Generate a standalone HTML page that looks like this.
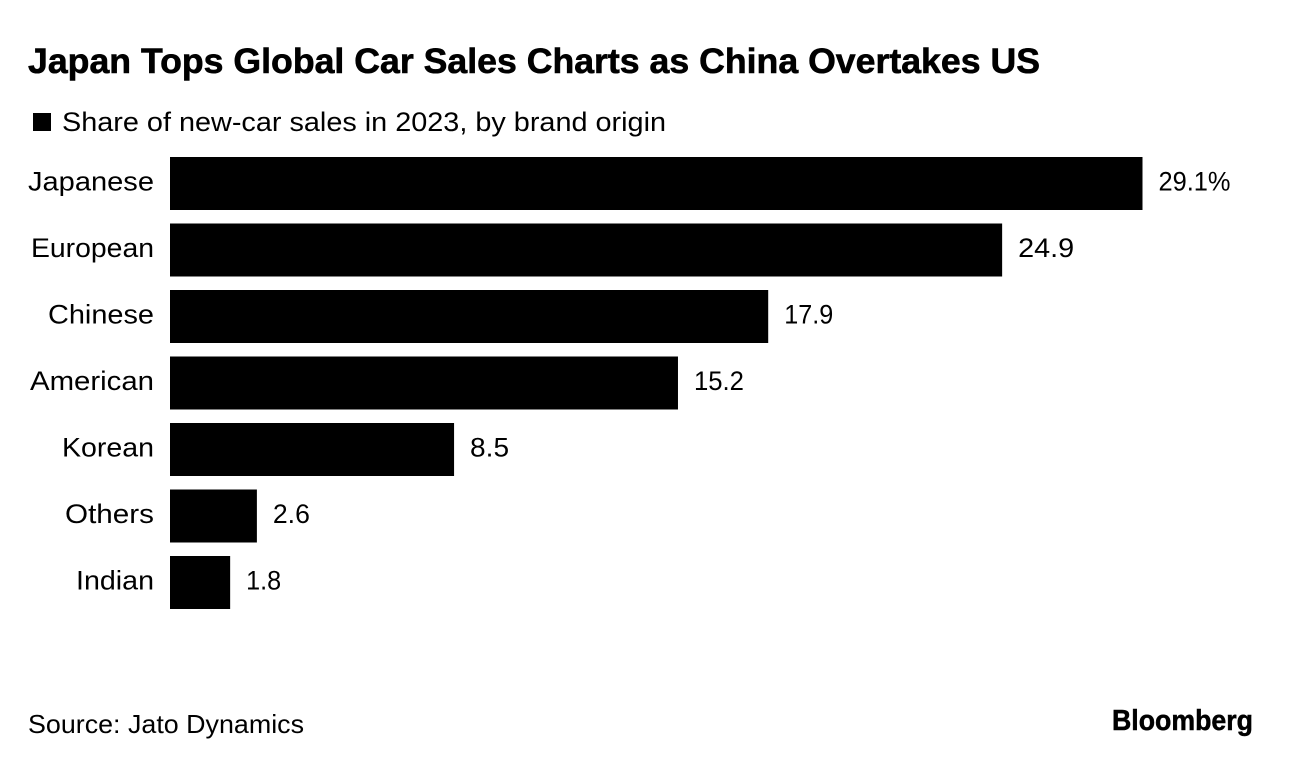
<!DOCTYPE html>
<html lang="en">
<head>
<meta charset="utf-8">
<title>Japan Tops Global Car Sales Charts as China Overtakes US</title>
<style>
html,body{margin:0;padding:0;background:#fff;}
body{width:1292px;height:766px;overflow:hidden;position:relative;font-family:"Liberation Sans",Arial,sans-serif;color:#000;}
svg{position:absolute;left:0;top:0;}
text{font-family:"Liberation Sans",Arial,sans-serif;fill:#000;}
</style>
</head>
<body>
<svg id="chart" width="1292" height="766" viewBox="0 0 1292 766">
  <text x="28" y="73" font-size="35" font-weight="700" stroke="#000" stroke-width="0.6" textLength="1012" lengthAdjust="spacingAndGlyphs">Japan Tops Global Car Sales Charts as China Overtakes US</text>
  <rect x="33" y="113" width="18" height="18" fill="#000"></rect>
  <text x="62" y="131" font-size="27" textLength="604" lengthAdjust="spacingAndGlyphs">Share of new-car sales in 2023, by brand origin</text>
  <g id="bars"></g>
  <text x="28" y="733" font-size="26" textLength="276" lengthAdjust="spacingAndGlyphs">Source: Jato Dynamics</text>
  <text x="1112" y="730" font-size="29" font-weight="700" stroke="#000" stroke-width="0.5" textLength="141" lengthAdjust="spacingAndGlyphs">Bloomberg</text>
</svg>
<script>
const categories = ["Japanese", "European", "Chinese", "American", "Korean", "Others", "Indian"];
const values = [29.1, 24.9, 17.9, 15.2, 8.5, 2.6, 1.8];
const valueLabels = ["29.1%", "24.9", "17.9", "15.2", "8.5", "2.6", "1.8"];

const NS = "http://www.w3.org/2000/svg";
const plotLeft = 170;
const pxPerUnit = (1142.5 - 170) / 29.1;
const bandTop = 157;
const bandStep = 66.5;
const barHeight = 53;
const categoryFit = { Japanese: 126, European: 123, Chinese: 106, American: 124, Korean: 92, Others: 89, Indian: 78 };
const valueFit = { "29.1%": 72, "24.9": 56, "17.9": 49, "15.2": 50, "8.5": 39, "2.6": 37, "1.8": 35 };
function xScale(v) { return plotLeft + v * pxPerUnit; }
function yScale(i) { return bandTop + i * bandStep; }

const group = document.getElementById("bars");
categories.forEach(function (cat, i) {
  const y = yScale(i);
  const cy = y + barHeight / 2 + 7;

  const bar = document.createElementNS(NS, "rect");
  bar.setAttribute("x", plotLeft);
  bar.setAttribute("y", y);
  bar.setAttribute("width", xScale(values[i]) - plotLeft);
  bar.setAttribute("height", barHeight);
  bar.setAttribute("fill", "#000");
  
  
  group.appendChild(bar);

  const label = document.createElementNS(NS, "text");
  label.setAttribute("x", 154);
  label.setAttribute("y", cy);
  label.setAttribute("text-anchor", "end");
  label.setAttribute("font-size", "27");
  if (categoryFit[cat]) {
    label.setAttribute("textLength", categoryFit[cat]);
    label.setAttribute("lengthAdjust", "spacingAndGlyphs");
  }
  label.textContent = cat;
  
  
  group.appendChild(label);

  const val = document.createElementNS(NS, "text");
  val.setAttribute("x", xScale(values[i]) + 16);
  val.setAttribute("y", cy);
  val.setAttribute("font-size", "27");
  if (valueFit[valueLabels[i]]) {
    val.setAttribute("textLength", valueFit[valueLabels[i]]);
    val.setAttribute("lengthAdjust", "spacingAndGlyphs");
  }
  val.textContent = valueLabels[i];
  
  
  group.appendChild(val);
});
</script>
</body>
</html>
